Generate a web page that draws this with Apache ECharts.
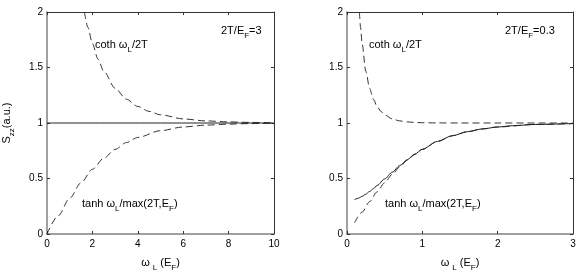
<!DOCTYPE html>
<html><head><meta charset="utf-8">
<script src="https://cdn.jsdelivr.net/npm/echarts@6/dist/echarts.min.js"></script>
<style>html,body{margin:0;padding:0;background:#fff}#c{width:581px;height:277px}</style>
</head><body><div id="c"></div>
<script>
// Left panel (2T/E_F = 3)
var leftCothX = [1.65,1.8,2,2.25,2.5,3,3.5,4,4.5,5,6,7,8,9,10];
var leftCothY = [2.0,1.862,1.716,1.575,1.466,1.313,1.214,1.149,1.105,1.074,1.037,1.019,1.010,1.005,1.0025];
var leftTanhX = [0,0.5,1,1.5,2,2.5,3,3.5,4,5,6,7,8,9,10];
var leftTanhY = [0,0.165,0.322,0.462,0.583,0.682,0.762,0.824,0.870,0.931,0.964,0.981,0.990,0.995,0.9975];
var leftSolidX = [0,10];
var leftSolidY = [1,1];
// Right panel (2T/E_F = 0.3)
var rightCothX = [0.165,0.18,0.2,0.25,0.3,0.35,0.4,0.45,0.5,0.6,0.7,0.8,0.9,1.0,1.2,1.5,2,3];
var rightCothY = [2.0,1.862,1.716,1.466,1.313,1.214,1.149,1.105,1.074,1.037,1.019,1.010,1.005,1.0025,1.0007,1.0001,1.0,1.0];
var rightTanhX = [0.1,0.2,0.3,0.4,0.5,0.6,0.7,0.8,0.9,1.0,1.2,1.4,1.6,1.8,2.0,2.5,3.0];
var rightTanhY = [0.100,0.197,0.291,0.380,0.462,0.537,0.604,0.664,0.716,0.762,0.834,0.885,0.922,0.947,0.964,0.987,0.995];
var rightSolidX = [0.1,0.15,0.2,0.25,0.3,0.35,0.4,0.5,0.6,0.7,0.8,0.9,1.0,1.2,1.4,1.6,1.8,2.0,2.2,2.5,3.0];
var rightSolidY = [0.310,0.322,0.339,0.359,0.383,0.408,0.437,0.496,0.557,0.616,0.670,0.720,0.764,0.834,0.886,0.922,0.947,0.964,0.976,0.987,0.995];
// Axis settings
var leftXMax = 10, leftXStep = 2;
var rightXMax = 3, rightXStep = 1;
var yMax = 2, yStep = 0.5;

function zip(xs, ys){ return xs.map(function(x,i){ return [x, ys[i]]; }); }

var FONT = 'Liberation Sans, Arial, Helvetica, sans-serif';
var subRich = {
  sub: {fontSize: 8, fontFamily: FONT, color: '#000', padding: [10,0,0,0]}
};

function xAx(grid, max, step, pos, labels){
  return {
    type: 'value', gridIndex: grid, position: pos, min: 0, max: max, interval: step,
    axisLine: {show: true, onZero: false, lineStyle: {color: pos==='bottom' ? '#808080' : '#333', width: pos==='bottom' ? 1.5 : 1}},
    axisTick: {show: true, inside: true, length: 3, lineStyle: {color: '#333'}},
    axisLabel: {show: labels, color: '#000', fontSize: 10, fontFamily: FONT, margin: 5},
    splitLine: {show: false},
    name: labels ? 'ω {sub|L} (E{sub|F})' : '',
    nameLocation: 'middle', nameGap: 20,
    nameTextStyle: {color: '#000', fontSize: 11, fontFamily: FONT, rich: subRich}
  };
}
function yAx(grid, pos, labels, withName){
  return {
    type: 'value', gridIndex: grid, position: pos, min: 0, max: yMax, interval: yStep,
    axisLine: {show: true, onZero: false, lineStyle: {color: pos==='left' ? '#808080' : '#333', width: pos==='left' ? 1.5 : 1}},
    axisTick: {show: true, inside: true, length: 3, lineStyle: {color: '#333'}},
    axisLabel: {show: labels, color: '#000', fontSize: 10, fontFamily: FONT, margin: 4},
    splitLine: {show: false},
    name: withName ? 'S{sub|zz}(a.u.)' : '',
    nameLocation: 'middle', nameGap: 31, nameRotate: 90,
    nameTextStyle: {color: '#000', fontSize: 11, fontFamily: FONT, rich: subRich}
  };
}
function line(xi, yi, data, dashed, z){
  return {
    type: 'line', xAxisIndex: xi, yAxisIndex: yi, data: data, showSymbol: false,
    smooth: 0.3, smoothMonotone: 'x', z: z || 2, silent: true, animation: false,
    lineStyle: {color: dashed ? '#333' : '#222', width: 1, type: dashed ? [7,4] : 'solid'}
  };
}
function label(x, y, text){
  return {type: 'text', x: x, y: y, silent: true,
    style: {text: text, fill: '#000', font: '11px ' + FONT, verticalAlign: 'middle', rich: subRich}};
}

var chart = echarts.init(document.getElementById('c'), null, {renderer: 'canvas'});
chart.setOption({
  animation: false,
  backgroundColor: '#fff',
  grid: [
    {left: 47, top: 12, width: 227, height: 226},
    {left: 347, top: 12, width: 226, height: 226}
  ],
  xAxis: [
    xAx(0, leftXMax, leftXStep, 'bottom', true),
    xAx(0, leftXMax, leftXStep, 'top', false),
    xAx(1, rightXMax, rightXStep, 'bottom', true),
    xAx(1, rightXMax, rightXStep, 'top', false)
  ],
  yAxis: [
    yAx(0, 'left', true, true),
    yAx(0, 'right', false, false),
    yAx(1, 'left', true, false),
    yAx(1, 'right', false, false)
  ],
  series: [
    line(0, 0, zip(leftCothX, leftCothY), true),
    line(0, 0, zip(leftTanhX, leftTanhY), true),
    line(0, 0, zip(leftSolidX, leftSolidY), false, 3),
    line(2, 2, zip(rightCothX, rightCothY), true),
    line(2, 2, zip(rightTanhX, rightTanhY), true),
    line(2, 2, zip(rightSolidX, rightSolidY), false, 3)
  ],
  graphic: [
    label(95, 45, 'coth ω{sub|L}/2T'),
    label(221, 31, '2T/E{sub|F}=3'),
    label(82, 204, 'tanh ω{sub|L}/max(2T,E{sub|F})'),
    label(369, 45, 'coth ω{sub|L}/2T'),
    label(505, 31, '2T/E{sub|F}=0.3'),
    label(385, 204, 'tanh ω{sub|L}/max(2T,E{sub|F})')
  ]
});
</script></body></html>
